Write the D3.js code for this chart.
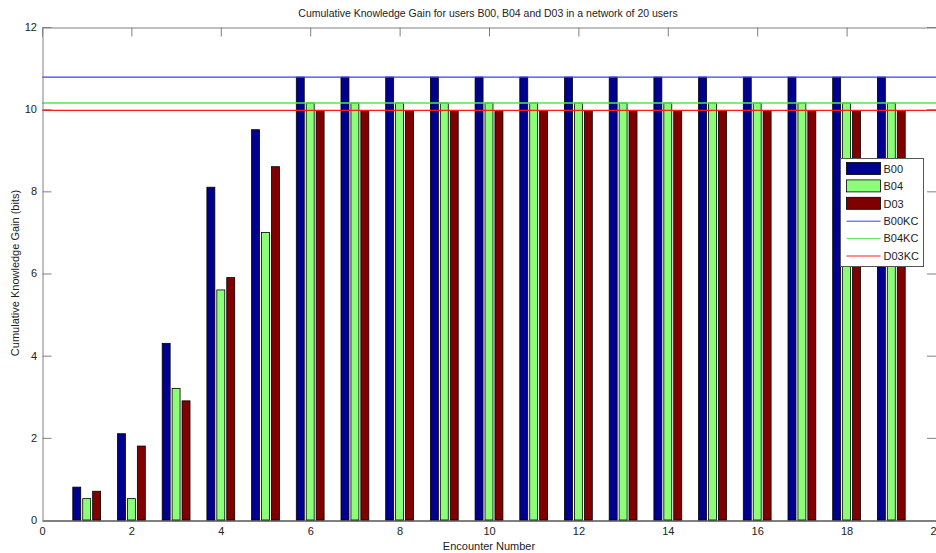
<!DOCTYPE html>
<html>
<head>
<meta charset="utf-8">
<script src="https://cdn.jsdelivr.net/npm/d3@7"></script>
<style>
  body { margin: 0; background: #fff; }
  text { font-family: "Liberation Sans", Arial, sans-serif; }
</style>
</head>
<body>
<div id="chart"></div>
<script>
// 数据
var encounters = [1, 2, 3, 4, 5, 6, 7, 8, 9, 10, 11, 12, 13, 14, 15, 16, 17, 18, 19];
var seriesNames = ["B00", "B04", "D03"];
var b00 = [0.8, 2.1, 4.3, 8.1, 9.5, 10.78, 10.78, 10.78, 10.78, 10.78, 10.78, 10.78, 10.78, 10.78, 10.78, 10.78, 10.78, 10.78, 10.78];
var b04 = [0.52, 0.52, 3.2, 5.6, 7.0, 10.15, 10.15, 10.15, 10.15, 10.15, 10.15, 10.15, 10.15, 10.15, 10.15, 10.15, 10.15, 10.15, 10.15];
var d03 = [0.7, 1.8, 2.9, 5.9, 8.6, 9.97, 9.97, 9.97, 9.97, 9.97, 9.97, 9.97, 9.97, 9.97, 9.97, 9.97, 9.97, 9.97, 9.97];
var kcNames = ["B00KC", "B04KC", "D03KC"];
var kcValues = [10.78, 10.15, 9.97];
var xTicks = [0, 2, 4, 6, 8, 10, 12, 14, 16, 18, 20];
var yTicks = [0, 2, 4, 6, 8, 10, 12];

function draw() {
  var width = 936;
  var height = 553;
  var barColors = ["#00008f", "#8cff78", "#800000"];
  var lineColors = ["#3c3cff", "#55e655", "#ff1a1a"];
  var axisGray = "#808080";

  var svg = d3.select("#chart").append("svg")
    .attr("width", width)
    .attr("height", height);

  var x = d3.scaleLinear().domain([0, 20]).range([42, 936]);
  var y = d3.scaleLinear().domain([0, 12]).range([520, 27]);

  var groupWidth = 2 / 3; // matlab分组宽度
  var step = groupWidth / 3;
  var barW = step * 0.8;
  var series = [b00, b04, d03];

  // 柱子
  series.forEach(function (vals, s) {
    svg.append("g")
      .selectAll("rect")
      .data(encounters)
      .enter()
      .append("rect")
      .attr("x", function (d) { return x(d + (s - 1) * step - barW / 2); })
      .attr("width", x(barW) - x(0))
      .attr("y", function (d, i) { return y(vals[i]); })
      .attr("height", function (d, i) { return y(0) - y(vals[i]); })
      .attr("fill", barColors[s])
      .attr("stroke", "#000")
      .attr("stroke-width", 0.8);
  });

  // KC 水平线
  svg.append("g")
    .selectAll("line")
    .data(kcValues)
    .enter()
    .append("line")
    .attr("x1", x(0))
    .attr("x2", x(20))
    .attr("y1", function (d) { return y(d); })
    .attr("y2", function (d) { return y(d); })
    .attr("stroke", function (d, i) { return lineColors[i]; })
    .attr("stroke-width", 1.3);

  // 坐标轴
  var xAxisB = d3.axisBottom(x).tickValues(xTicks).tickSize(0).tickPadding(7).tickFormat(d3.format("d"));
  var gxb = svg.append("g").attr("transform", "translate(0," + 520.5 + ")").call(xAxisB);
  gxb.select(".domain").attr("stroke", "#000");

  var xAxisT = d3.axisBottom(x).tickValues(xTicks).tickSize(9).tickFormat("");
  var gxt = svg.append("g").attr("transform", "translate(0," + 27.5 + ")").call(xAxisT);
  gxt.selectAll("line, .domain").attr("stroke", axisGray);

  var yAxisL = d3.axisRight(y).tickValues(yTicks).tickSize(9).tickFormat("");
  var gyl = svg.append("g").attr("transform", "translate(42.5,0)").call(yAxisL);
  gyl.selectAll("line, .domain").attr("stroke", axisGray);
  gyl.selectAll(".tick").filter(function (d) { return d === 0 || d === 12; }).remove();

  var yAxisR = d3.axisLeft(y).tickValues(yTicks).tickSize(9).tickFormat("");
  var gyr = svg.append("g").attr("transform", "translate(936,0)").call(yAxisR);
  gyr.selectAll("line, .domain").attr("stroke", axisGray);
  gyr.selectAll(".tick").filter(function (d) { return d === 0 || d === 12; }).remove();

  // y轴文字
  svg.append("g")
    .selectAll("text")
    .data(yTicks)
    .enter()
    .append("text")
    .attr("x", 37)
    .attr("y", function (d) { return y(d); })
    .attr("dy", "0.35em")
    .attr("text-anchor", "end")
    .style("font-size", "11px")
    .attr("fill", "#222")
    .text(function (d) { return d; });

  gxb.selectAll("text").style("font-size", "11px").attr("fill", "#222")
    .style("font-family", '"Liberation Sans", Arial, sans-serif');

  // 标题
  svg.append("text")
    .attr("x", 488)
    .attr("y", 17)
    .attr("text-anchor", "middle")
    .style("font-size", "10.5px")
    .attr("fill", "#222")
    .text("Cumulative Knowledge Gain for users B00, B04 and D03 in a network of 20 users");

  svg.append("text")
    .attr("x", 489)
    .attr("y", 550)
    .attr("text-anchor", "middle")
    .style("font-size", "11px")
    .attr("fill", "#222")
    .text("Encounter Number");

  svg.append("text")
    .attr("transform", "translate(19,273)rotate(-90)")
    .attr("text-anchor", "middle")
    .style("font-size", "11px")
    .attr("fill", "#222")
    .text("Cumulative Knowledge Gain (bits)");

  // 图例
  var legend = svg.append("g").attr("transform", "translate(840.5,158.5)");
  legend.append("rect")
    .attr("width", 83)
    .attr("height", 108)
    .attr("fill", "#fff")
    .attr("stroke", "#555");

  var items = seriesNames.map(function (n, i) { return { name: n, type: "bar", color: barColors[i] }; })
    .concat(kcNames.map(function (n, i) { return { name: n, type: "line", color: lineColors[i] }; }));

  var row = legend.selectAll("g.item")
    .data(items)
    .enter()
    .append("g")
    .attr("class", "item")
    .attr("transform", function (d, i) { return "translate(0," + (10.5 + i * 17.4) + ")"; });

  row.filter(function (d) { return d.type === "bar"; })
    .append("rect")
    .attr("x", 6)
    .attr("y", -6.5)
    .attr("width", 34)
    .attr("height", 12)
    .attr("fill", function (d) { return d.color; })
    .attr("stroke", "#000")
    .attr("stroke-width", 0.8);

  row.filter(function (d) { return d.type === "line"; })
    .append("line")
    .attr("x1", 6)
    .attr("x2", 40)
    .attr("y1", 0)
    .attr("y2", 0)
    .attr("stroke", function (d) { return d.color; });

  row.append("text")
    .attr("x", 43)
    .attr("dy", "0.35em")
    .style("font-size", "11px")
    .attr("fill", "#222")
    .text(function (d) { return d.name; });
}

draw();
</script>
</body>
</html>
